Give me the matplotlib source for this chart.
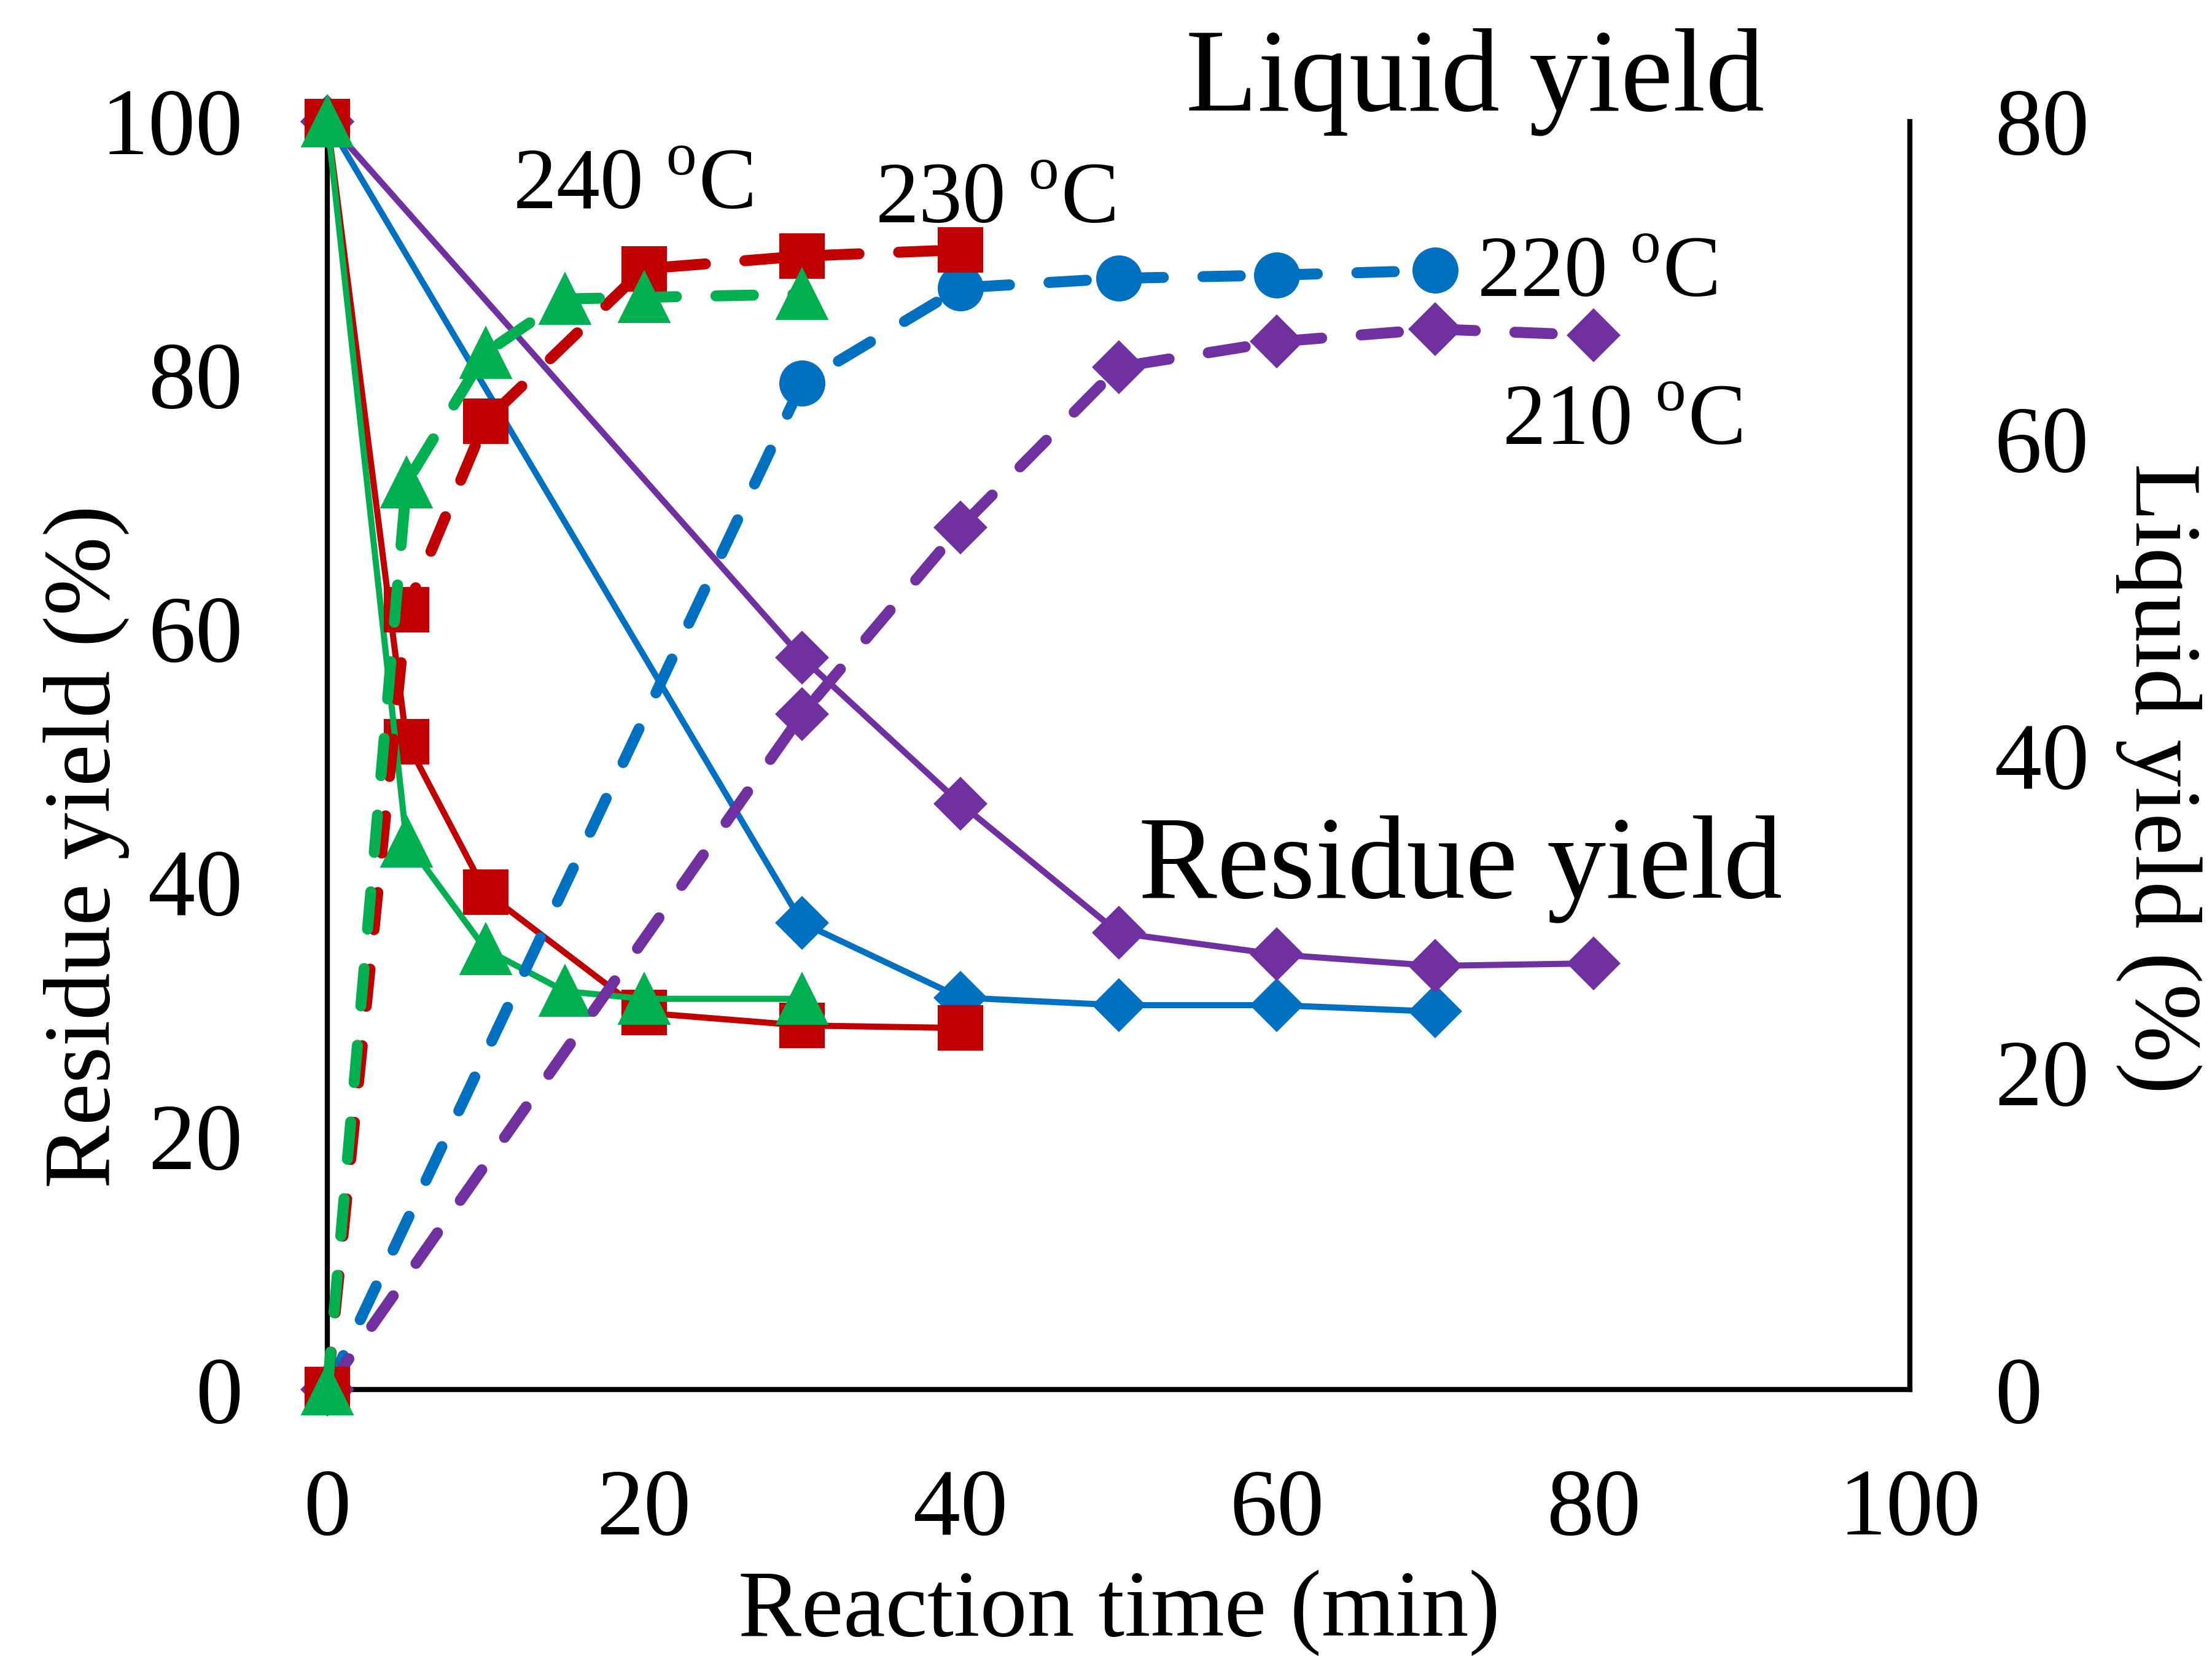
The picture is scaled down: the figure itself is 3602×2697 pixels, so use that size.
import matplotlib
matplotlib.use("Agg")
import matplotlib.pyplot as plt

plt.rcParams['font.family'] = ['Liberation Serif', 'DejaVu Serif']
plt.rcParams['mathtext.fontset'] = 'custom'
plt.rcParams['mathtext.rm'] = 'Liberation Serif'

# reaction times (min)
t_240 = [0, 5, 10, 15, 20, 30]
t_230 = [0, 5, 10, 20, 30, 40]
t_220 = [0, 30, 40, 50, 60, 70]
t_210 = [0, 30, 40, 50, 60, 70, 80]

# residue yield (%), left axis
res_240 = [100, 43.2, 34.7, 31.4, 30.8, 30.8]
res_230 = [100, 51.1, 39.2, 29.7, 28.7, 28.5]
res_220 = [100, 36.8, 30.9, 30.3, 30.3, 29.8]
res_210 = [100, 57.7, 46.2, 36.0, 34.3, 33.4, 33.6]

# liquid yield (%), right axis
liq_240 = [0, 57.2, 65.4, 68.8, 68.9, 69.1]
liq_230 = [0, 49.2, 61.1, 70.7, 71.5, 71.9]
liq_220 = [0, 63.5, 69.5, 70.1, 70.3, 70.6]
liq_210 = [0, 42.6, 54.4, 64.5, 66.1, 66.9, 66.5]

red = '#C00000'
green = '#00B050'
blue = '#0070C0'
purple = '#7030A0'

fig = plt.figure(figsize=(3602 / 300, 2697 / 300), dpi=300)
ax = fig.add_axes([0.148, 0.161, 0.7155, 0.7657])
ax2 = ax.twinx()

lw_s = 2.4
lw_d = 4.3
dash = (3.4, 3.6)

# solid lines: residue
ax.plot(t_220, res_220, color=blue, lw=lw_s, marker='D', ms=14, clip_on=False, zorder=3)
ax.plot(t_210, res_210, color=purple, lw=lw_s, marker='D', ms=14, clip_on=False, zorder=3)
ax.plot(t_230, res_230, color=red, lw=lw_s, marker='s', ms=17, clip_on=False, zorder=4)
ax.plot(t_240, res_240, color=green, lw=lw_s, marker='^', ms=19, clip_on=False, zorder=5)

# dashed lines: liquid
for t, y, c, m, ms in [(t_220, liq_220, blue, 'o', 17),
                       (t_210, liq_210, purple, 'D', 14),
                       (t_230, liq_230, red, 's', 17),
                       (t_240, liq_240, green, '^', 19)]:
    ax2.plot(t, y, color=c, lw=lw_d, dashes=dash, dash_capstyle='round',
             marker=m, ms=ms, clip_on=False)

ax.set_xlim(0, 100)
ax.set_ylim(0, 100)
ax2.set_ylim(0, 80)
ax.set_xticks([0, 20, 40, 60, 80, 100])
ax.set_yticks([0, 20, 40, 60, 80, 100])
ax2.set_yticks([0, 20, 40, 60, 80])

ax.tick_params(axis='x', length=0, pad=31, labelsize=37)
ax.tick_params(axis='y', length=0, pad=33, labelsize=37)
ax2.tick_params(axis='y', length=0, pad=33, labelsize=37)

for a in (ax, ax2):
    a.spines['top'].set_visible(False)
    for s in a.spines.values():
        s.set_linewidth(2)
        s.set_color('black')
ax.spines['right'].set_visible(False)
ax2.spines['left'].set_visible(False)
ax2.spines['bottom'].set_visible(False)

fig.text(0.506, 0.026, 'Reaction time (min)', fontsize=37, ha='center', va='center')
fig.text(0.039, 0.489, 'Residue yield (%)', fontsize=37, rotation=90, ha='center', va='center')
fig.text(0.9758, 0.530, 'Liquid yield (%)', fontsize=37, rotation=270, ha='center', va='center')

deg = r'$^{\mathrm{o}}$'
ax.text(72.5, 100.9, 'Liquid yield', fontsize=46, ha='center', va='baseline', clip_on=False)
ax.text(71.6, 38.8, 'Residue yield', fontsize=46, ha='center', va='baseline')
ax.text(19.3, 93.1, '240 ' + deg + 'C', fontsize=34, ha='center', va='baseline')
ax.text(42.2, 92.0, '230 ' + deg + 'C', fontsize=34, ha='center', va='baseline')
ax.text(80.2, 86.2, '220 ' + deg + 'C', fontsize=34, ha='center', va='baseline')
ax.text(81.8, 74.5, '210 ' + deg + 'C', fontsize=34, ha='center', va='baseline')

fig.savefig('out.png', dpi=300)
